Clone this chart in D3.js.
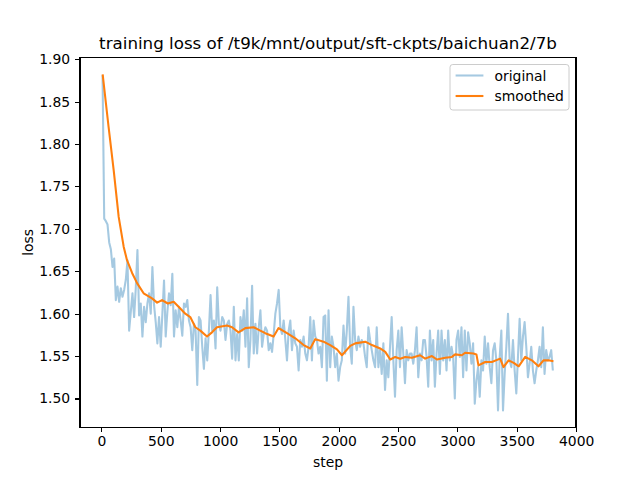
<!DOCTYPE html>
<html>
<head>
<meta charset="utf-8">
<script src="https://d3js.org/d3.v7.min.js"></script>
<style>
  body { margin: 0; background: #fff; }
  svg text { font-family: "DejaVu Sans", sans-serif; fill: #000; }
  .axis path, .axis line { stroke: #000; stroke-width: 1.1px; shape-rendering: crispEdges; }
</style>
</head>
<body>
<script>
  // logged every 14 steps starting at step 10
  var origStart = 10, origEvery = 14;
  var origLoss = [
    1.881, 1.712, 1.709, 1.705, 1.684, 1.676, 1.655, 1.665, 1.616, 1.632,
    1.614, 1.630, 1.620, 1.628, 1.640, 1.663, 1.580, 1.602, 1.624, 1.596,
    1.630, 1.675, 1.598, 1.612, 1.573, 1.608, 1.590, 1.612, 1.624, 1.600,
    1.655, 1.610, 1.590, 1.565, 1.596, 1.561, 1.600, 1.639, 1.573, 1.602,
    1.624, 1.610, 1.647, 1.573,
    1.604, 1.584, 1.608, 1.592, 1.574, 1.612, 1.608, 1.616, 1.592, 1.584,
    1.557, 1.588, 1.580, 1.516, 1.596, 1.592, 1.561, 1.535, 1.571, 1.545,
    1.580, 1.622, 1.580, 1.592, 1.559, 1.631, 1.588, 1.580, 1.596, 1.592,
    1.569, 1.588, 1.592, 1.580, 1.547, 1.608, 1.545, 1.576, 1.545, 1.596,
    1.580, 1.604, 1.561, 1.618, 1.537, 1.569, 1.633, 1.553, 1.588,
    1.553, 1.584, 1.604, 1.561, 1.576, 1.584, 1.580, 1.557, 1.565, 1.555,
    1.576, 1.600, 1.612, 1.628, 1.584, 1.576, 1.592, 1.569, 1.545, 1.580,
    1.592, 1.557, 1.580, 1.565, 1.561, 1.533, 1.569, 1.561, 1.573, 1.553,
    1.545, 1.561, 1.596, 1.545, 1.592, 1.573, 1.569, 1.553, 1.561, 1.537,
    1.596, 1.598, 1.521, 1.604, 1.537, 1.573, 1.561, 1.537, 1.553, 1.521,
    1.537,
    1.545, 1.586, 1.553, 1.580, 1.620, 1.561, 1.541, 1.608, 1.569, 1.557,
    1.573, 1.561, 1.569, 1.565, 1.549, 1.537, 1.584, 1.569, 1.557, 1.545,
    1.537, 1.584, 1.537, 1.557, 1.529, 1.565, 1.510, 1.545, 1.525, 1.561,
    1.596, 1.545, 1.502, 1.557, 1.580, 1.537, 1.584, 1.553, 1.518, 1.557,
    1.545, 1.553, 1.553, 1.541, 1.557, 1.584, 1.525, 1.553,
    1.545, 1.569, 1.569, 1.549, 1.514, 1.580, 1.545, 1.569, 1.514, 1.553,
    1.580, 1.529, 1.580, 1.545, 1.569, 1.533, 1.580, 1.545, 1.561, 1.549,
    1.500, 1.569, 1.580, 1.549, 1.584, 1.525, 1.580, 1.533, 1.578, 1.565,
    1.541, 1.565, 1.494, 1.521, 1.537, 1.502, 1.545, 1.533, 1.573, 1.541,
    1.565, 1.537, 1.518, 1.557, 1.565, 1.545, 1.486, 1.549,
    1.580, 1.486, 1.529, 1.561, 1.600, 1.545, 1.537, 1.569, 1.533, 1.506,
    1.549, 1.594, 1.545, 1.573, 1.590, 1.561, 1.525, 1.541, 1.561, 1.533,
    1.518, 1.533, 1.545, 1.561, 1.537, 1.584, 1.529, 1.557, 1.545, 1.549,
    1.557, 1.533
  ];

  var smoothStep = [
    11, 61, 104, 146, 188, 216, 259, 301, 356, 427,
    470, 511, 560, 609, 665, 707, 749, 792, 834, 890,
    932, 974, 1059, 1101, 1156, 1213, 1283, 1339, 1381, 1451,
    1493, 1564, 1634, 1704, 1760, 1802, 1872, 1928, 1985, 2027,
    2097, 2139, 2223, 2280, 2349, 2392, 2434, 2476, 2518, 2560,
    2616, 2686, 2728, 2785, 2827, 2897, 2953, 2981, 3037, 3065,
    3135, 3160, 3177, 3234, 3290, 3360, 3388, 3431, 3474, 3516,
    3571, 3627, 3683, 3725, 3767, 3809
  ];
  var smoothLoss = [
    1.882, 1.820, 1.769, 1.714, 1.679, 1.663, 1.648, 1.636, 1.624, 1.618,
    1.613, 1.616, 1.612, 1.614, 1.606, 1.600, 1.596, 1.584, 1.580, 1.573,
    1.578, 1.584, 1.586, 1.584, 1.578, 1.583, 1.584, 1.580, 1.577, 1.573,
    1.583, 1.577, 1.571, 1.563, 1.559, 1.570, 1.567, 1.563, 1.558, 1.551,
    1.562, 1.565, 1.567, 1.563, 1.559, 1.555, 1.546, 1.549, 1.547, 1.549,
    1.548, 1.551, 1.547, 1.550, 1.546, 1.548, 1.549, 1.552, 1.551, 1.554,
    1.553, 1.552, 1.539, 1.543, 1.543, 1.547, 1.537, 1.545, 1.542, 1.538,
    1.549, 1.545, 1.538, 1.545, 1.545, 1.544
  ];

  var xTicks = [0, 500, 1000, 1500, 2000, 2500, 3000, 3500, 4000];
  var yTicks = [1.50, 1.55, 1.60, 1.65, 1.70, 1.75, 1.80, 1.85, 1.90];

  var original = origLoss.map(function(v, i) { return { step: origStart + i * origEvery, loss: v }; });
  var smoothed = smoothLoss.map(function(v, i) { return { step: smoothStep[i], loss: v }; });

  var width = 640, height = 480,
      margin = { left: 80, top: 57.6, right: 64, bottom: 52.8 };
  var x0 = margin.left, x1 = width - margin.right,
      y0 = margin.top, y1 = height - margin.bottom;

  // matplotlib style 5% margins
  var all = original.concat(smoothed);
  var xe = d3.extent(all, function(d) { return d.step; }),
      ye = d3.extent(all, function(d) { return d.loss; });
  var xp = (xe[1] - xe[0]) * 0.05, yp = (ye[1] - ye[0]) * 0.05;

  var x = d3.scaleLinear().domain([xe[0] - xp, xe[1] + xp]).range([x0, x1]);
  var y = d3.scaleLinear().domain([ye[0] - yp, ye[1] + yp]).range([y1, y0]);

  var svg = d3.select("body").append("svg")
      .attr("width", width)
      .attr("height", height);

  var line = d3.line()
      .x(function(d) { return x(d.step); })
      .y(function(d) { return y(d.loss); });

  svg.append("path")
      .datum(original)
      .attr("d", line)
      .attr("fill", "none")
      .attr("stroke", "#1f77b4")
      .attr("stroke-opacity", 0.4)
      .attr("stroke-width", 2.08)
      .attr("stroke-linejoin", "round");

  svg.append("path")
      .datum(smoothed)
      .attr("d", line)
      .attr("fill", "none")
      .attr("stroke", "#ff7f0e")
      .attr("stroke-width", 2.08)
      .attr("stroke-linejoin", "round");

  // axes
  var xAxis = svg.append("g")
      .attr("class", "axis")
      .attr("transform", "translate(0," + y1 + ")")
      .call(d3.axisBottom(x).tickValues(xTicks).tickSize(4.9).tickPadding(4.5).tickFormat(d3.format("d")));
  var yAxis = svg.append("g")
      .attr("class", "axis")
      .attr("transform", "translate(" + x0 + ",0)")
      .call(d3.axisLeft(y).tickValues(yTicks).tickSize(4.9).tickPadding(4.9).tickFormat(d3.format(".2f")));
  svg.selectAll(".axis .domain").remove();
  svg.selectAll(".axis text").style("font-size", "13.9px").style("font-family", "DejaVu Sans");

  // frame
  svg.append("rect")
      .attr("x", x0).attr("y", y0)
      .attr("width", x1 - x0).attr("height", y1 - y0)
      .attr("fill", "none")
      .attr("stroke", "#000")
      .attr("stroke-width", 1.1)
      .style("shape-rendering", "crispEdges");

  // titles
  svg.append("text")
      .attr("x", (x0 + x1) / 2).attr("y", 49)
      .attr("text-anchor", "middle")
      .style("font-size", "16.7px")
      .text("training loss of /t9k/mnt/output/sft-ckpts/baichuan2/7b");
  svg.append("text")
      .attr("x", (x0 + x1) / 2).attr("y", 467)
      .attr("text-anchor", "middle")
      .style("font-size", "13.9px")
      .text("step");
  svg.append("text")
      .attr("transform", "translate(33," + (y0 + y1) / 2 + ") rotate(-90)")
      .attr("text-anchor", "middle")
      .style("font-size", "13.9px")
      .text("loss");

  // legend
  var legend = svg.append("g");
  legend.append("rect")
      .attr("x", 450).attr("y", 64.5)
      .attr("width", 119).attr("height", 45.5)
      .attr("rx", 2.8)
      .attr("fill", "#fff").attr("fill-opacity", 0.8)
      .attr("stroke", "#cccccc").attr("stroke-width", 1);
  var items = [
    { name: "original", color: "#1f77b4", op: 0.4 },
    { name: "smoothed", color: "#ff7f0e", op: 1 }
  ];
  items.forEach(function(d, i) {
    var cy = 75.5 + i * 20.5;
    legend.append("line")
        .attr("x1", 455.6).attr("x2", 483.4)
        .attr("y1", cy).attr("y2", cy)
        .attr("stroke", d.color).attr("stroke-opacity", d.op)
        .attr("stroke-width", 2.08);
    legend.append("text")
        .attr("x", 494.5).attr("y", cy + 5)
        .style("font-size", "13.9px")
        .text(d.name);
  });
</script>
</body>
</html>
